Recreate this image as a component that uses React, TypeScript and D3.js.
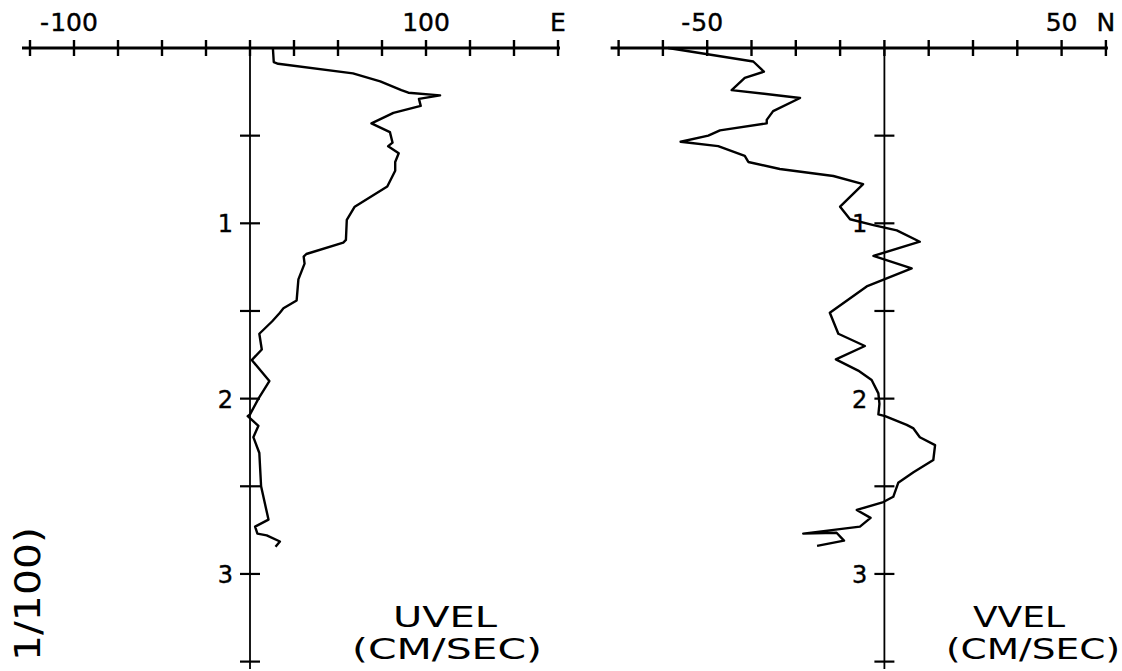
import React from "react";
import * as d3 from "d3";

// ---- data ----
const uDepth = [0, 0.08, 0.09, 0.145, 0.19, 0.24, 0.255, 0.27, 0.29, 0.33, 0.37, 0.43, 0.48, 0.54, 0.56, 0.6, 0.65, 0.7, 0.79, 0.905, 0.98, 1.095, 1.11, 1.175, 1.19, 1.23, 1.32, 1.44, 1.485, 1.51, 1.56, 1.63, 1.72, 1.78, 1.9, 2.0, 2.09, 2.1, 2.155, 2.22, 2.31, 2.5, 2.69, 2.73, 2.77, 2.78, 2.815, 2.845];
const uVel = [13, 13.5, 16, 58.5, 74, 86, 90, 108, 96, 97, 81.5, 69, 79.5, 81, 78.5, 84.5, 82.5, 82.5, 78, 59.5, 55, 54.5, 53, 32, 30.5, 31, 27.5, 26.5, 19, 17, 12.5, 5.3, 6.7, 1, 11, 4.8, 0, -1.3, 4.8, 1.9, 5.3, 6.3, 10.5, 2.9, 4.2, 9.5, 17, 14.5];

const vDepth = [0, 0.077, 0.135, 0.17, 0.24, 0.285, 0.36, 0.41, 0.43, 0.47, 0.5, 0.535, 0.56, 0.615, 0.65, 0.69, 0.73, 0.776, 0.905, 0.977, 1.01, 1.04, 1.105, 1.186, 1.257, 1.36, 1.51, 1.63, 1.7, 1.776, 1.84, 1.894, 1.97, 2.03, 2.09, 2.1, 2.15, 2.17, 2.22, 2.265, 2.35, 2.42, 2.48, 2.56, 2.59, 2.635, 2.68, 2.73, 2.77, 2.765, 2.81, 2.84];
const vVel = [-61, -37, -34, -39.4, -43.1, -23.8, -31.4, -33.2, -33.2, -46.4, -49.7, -57.5, -46.9, -39.4, -38.4, -29.5, -14.4, -6, -12.5, -9.7, -3.1, 3.5, 10, -3.1, 7.7, -5, -15.4, -13, -5.5, -13.7, -7.4, -3.6, -1.7, -1.4, -1.7, 0.2, 6.3, 8.2, 10, 14.3, 13.8, 8.2, 3.9, 2.5, -0.3, -7.8, -3.9, -6.9, -22.9, -13.5, -11.4, -19];

const uTicks = d3.range(-125, 175.1, 25);
const vTicks = d3.range(-75, 62.6, 12.5);
const depthTicks = d3.range(0.5, 3.51, 0.5);
const depthLabels = [1, 2, 3];
const uTickLabels = [-100, 100];
const vTickLabels = [-50, 50];
const uDirLabel = "E";
const vDirLabel = "N";
const uTitle = ["UVEL", "(CM/SEC)"];
const vTitle = ["VVEL", "(CM/SEC)"];
const depthTitle = "1/100)";

const W = 1122;
const H = 671;
const FONT = "'DejaVu Sans', sans-serif";
const COND = "'DejaVu Sans Condensed', 'DejaVu Sans', sans-serif";

const y = d3.scaleLinear().domain([0, 3.5]).range([48, 661.6]);
const xU = d3.scaleLinear().domain([-125, 175]).range([30, 558]);
const xV = d3.scaleLinear().domain([-75, 62.5]).range([618.6, 1105.9]);

const txt = { fill: "#000", stroke: "#000", strokeWidth: 0.4 };

function Panel({ x, ticks, labels, dir, title, depth, vals, t1, t2 }: any) {
  const zero = x(0);
  const line = d3.line<number>().x((v) => x(v)).y((_, i) => y(depth[i]));
  const fs = 25;
  const digitW = 0.318 * fs;
  const xmax = x.domain()[1];
  return (
    <g>
      {/* top axis */}
      <line x1={x.range()[0] - 8} x2={x.range()[1] + 2} y1={y(0)} y2={y(0)} stroke="#000" strokeWidth={3} />
      {ticks.map((t: number) => (
        <line key={"t" + t} x1={x(t)} x2={x(t)} y1={y(0) - 8} y2={y(0) + 8} stroke="#000" strokeWidth={2.4} />
      ))}
      {/* vertical axis */}
      <line x1={zero} x2={zero} y1={y(0)} y2={H - 2} stroke="#000" strokeWidth={1.8} />
      {depthTicks.map((d: number) => (
        <line key={"d" + d} x1={zero - 10} x2={zero + 10} y1={y(d)} y2={y(d)} stroke="#000" strokeWidth={2.2} />
      ))}
      {depthLabels.map((d: number) => (
        <text key={"dl" + d} x={zero - 17} y={y(d) + 9} fontSize={24} fontFamily={FONT} textAnchor="end" {...txt}>{d}</text>
      ))}
      {labels.map((v: number) => {
        const s = String(Math.abs(v));
        const hw = s.length * digitW;
        return (
          <g key={"l" + v}>
            <text x={x(v)} y={31} fontSize={fs} fontFamily={FONT} textAnchor="middle" {...txt}>{s}</text>
            {v < 0 && (
              <text x={x(v) - hw - 1} y={31} fontSize={fs} fontFamily={FONT} textAnchor="end" {...txt}>-</text>
            )}
          </g>
        );
      })}
      <text x={x(xmax)} y={31} fontSize={fs} fontFamily={FONT} textAnchor="middle" {...txt}>{dir}</text>
      {/* curve */}
      <path d={line(vals) || ""} fill="none" stroke="#000" strokeWidth={2.4} strokeLinejoin="round" />
      {/* title */}
      <text x={t1[0]} y={627} fontSize={29} fontFamily={COND} textAnchor="middle" textLength={t1[1]} lengthAdjust="spacingAndGlyphs" fill="#000">{title[0]}</text>
      <text x={t2[0]} y={659} fontSize={29} fontFamily={COND} textAnchor="middle" textLength={t2[1]} lengthAdjust="spacingAndGlyphs" fill="#000">{title[1]}</text>
    </g>
  );
}

export default function App() {
  return (
    <svg width={W} height={H} style={{ position: "absolute", left: 0, top: 0, background: "#fff", display: "block" }}>
      <rect width={W} height={H} fill="#fff" />
      <Panel x={xU} ticks={uTicks} labels={uTickLabels} dir={uDirLabel} title={uTitle} depth={uDepth} vals={uVel} t1={[445, 104]} t2={[447, 190]} />
      <Panel x={xV} ticks={vTicks} labels={vTickLabels} dir={vDirLabel} title={vTitle} depth={vDepth} vals={vVel} t1={[1019, 92]} t2={[1033, 174]} />
      <text transform="translate(40,661) rotate(-90)" fontSize={36} fontFamily={FONT} textLength={134} lengthAdjust="spacingAndGlyphs" fill="#000">{depthTitle}</text>
    </svg>
  );
}
